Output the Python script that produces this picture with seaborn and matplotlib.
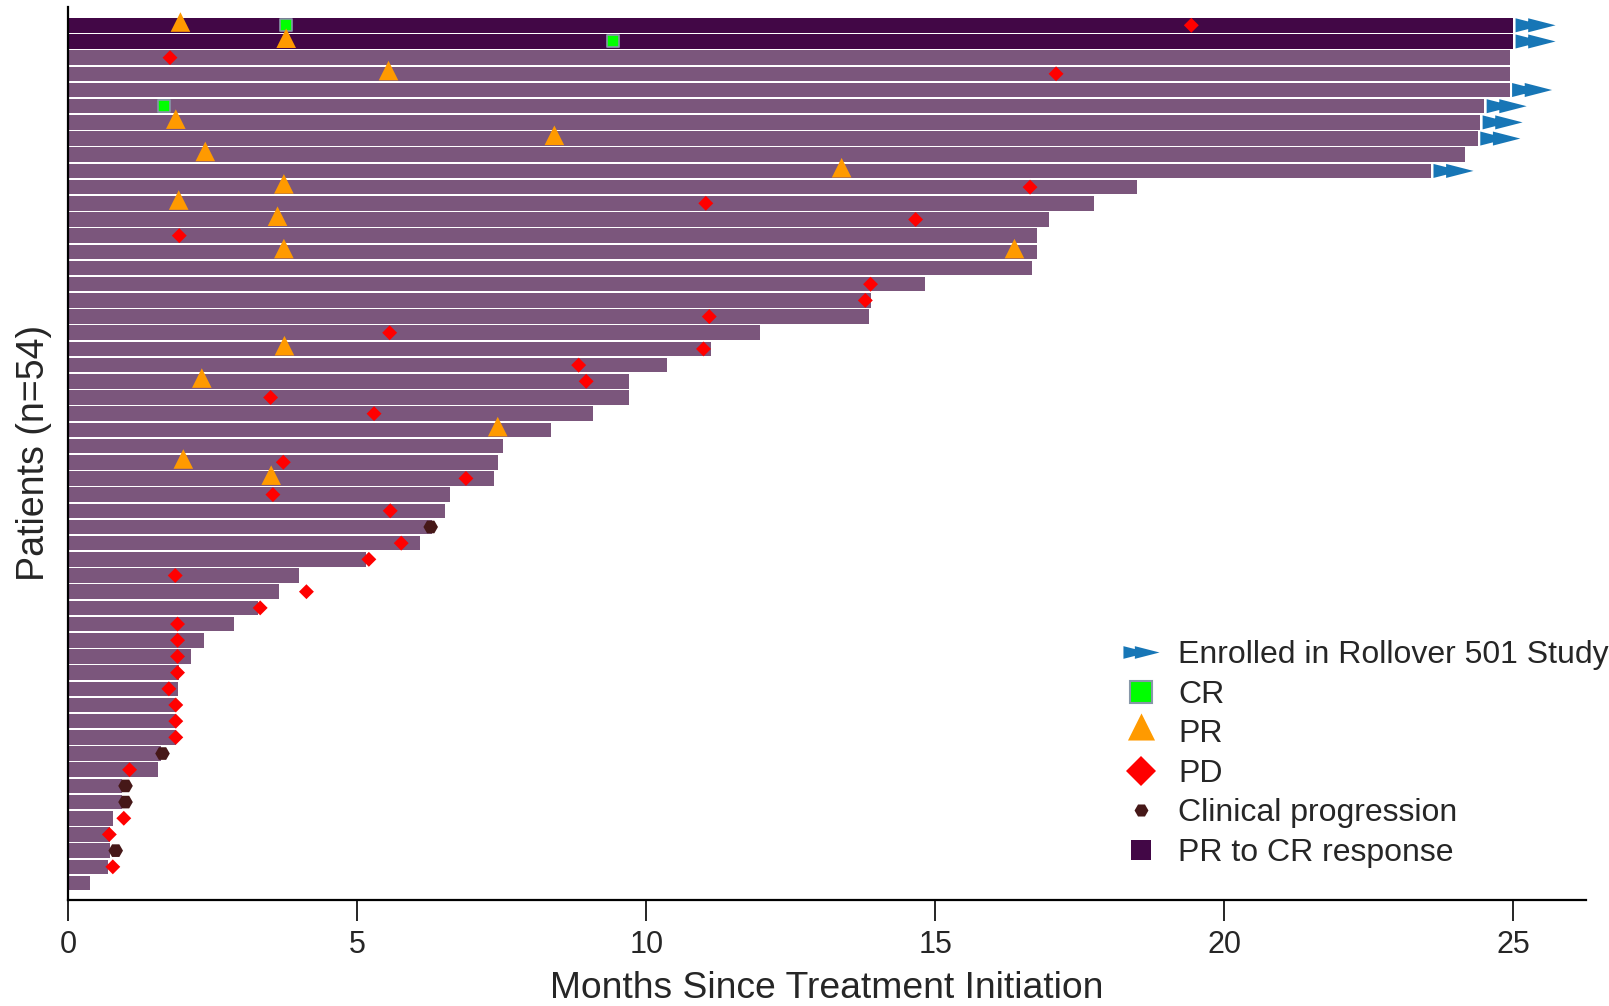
import numpy as np
import pandas as pd
import matplotlib.pyplot as plt
import seaborn as sns
from matplotlib.path import Path
from matplotlib.lines import Line2D

# ===============================
# Data (months)
# ===============================
end_months = [25.0, 25.0, 24.94, 24.94, 24.94, 24.50, 24.43, 24.39, 24.16, 23.58,
              18.49, 17.75, 16.97, 16.76, 16.76, 16.68, 14.82, 13.88, 13.86, 11.96,
              11.12, 10.36, 9.70, 9.70, 9.08, 8.35, 7.52, 7.44, 7.37, 6.61,
              6.52, 6.30, 6.09, 5.15, 4.00, 3.65, 3.28, 2.86, 2.34, 2.13,
              1.91, 1.90, 1.86, 1.86, 1.86, 1.61, 1.55, 0.93, 0.93, 0.78,
              0.72, 0.72, 0.68, 0.37]
pr_to_cr_rows = [0, 1]
rollover_rows = [0, 1, 4, 5, 6, 7, 9]

cr_rows = [0, 1, 5]
cr_months = [3.76, 9.42, 1.65]

pr_rows = [0, 1, 3, 6, 7, 8, 9, 10, 11, 12, 14, 14, 20, 22, 25, 27, 28]
pr_months = [1.94, 3.77, 5.54, 1.86, 8.41, 2.37, 13.38, 3.73, 1.91, 3.62, 3.73, 16.37,
             3.74, 2.31, 7.43, 1.99, 3.51]

pd_rows = [0, 2, 3, 10, 11, 12, 13, 16, 17, 18, 19, 20, 21, 22, 23, 24, 27, 28, 29, 30,
           32, 33, 34, 35, 36, 37, 38, 39, 40, 41, 42, 43, 44, 46, 49, 50, 52]
pd_months = [19.43, 1.76, 17.09, 16.64, 11.03, 14.66, 1.92, 13.88, 13.79, 11.09, 5.56, 10.99,
             8.83, 8.96, 3.50, 5.29, 3.72, 6.88, 3.54, 5.57, 5.76, 5.20, 1.85, 4.12, 3.32,
             1.89, 1.89, 1.89, 1.89, 1.74, 1.86, 1.86, 1.86, 1.06, 0.96, 0.71, 0.77]

cp_rows = [31, 45, 47, 48, 51]
cp_months = [6.27, 1.63, 0.99, 0.99, 0.82]

legend_labels = ["Enrolled in Rollover 501 Study", "CR", "PR", "PD",
                 "Clinical progression", "PR to CR response"]

# ===============================
# Colors / markers
# ===============================
bar_col = "#7b567c"
dark_col = "#420746"
blue = "#1776b6"
lime = "#00ff00"
orange = "#ff9a00"
red = "#ff0000"
brown = "#461818"

def double_arrow(centered=False):
    s = -2.85 if centered else 0.0
    v = [(0 + s, -1), (0 + s, 1), (3.9 + s, 0), (0 + s, -1),
         (1.8 + s, -1), (1.8 + s, 1), (5.7 + s, 0), (1.8 + s, -1)]
    c = [Path.MOVETO, Path.LINETO, Path.LINETO, Path.CLOSEPOLY] * 2
    return Path(v, c)

# triangle centred on its centroid
tri = Path([(0, 2 / 3), (-0.5, -1 / 3), (0.5, -1 / 3), (0, 2 / 3)],
           [Path.MOVETO, Path.LINETO, Path.LINETO, Path.CLOSEPOLY])

df = pd.DataFrame({"row": np.arange(len(end_months)), "months": end_months})
df["group"] = np.where(df["row"].isin(pr_to_cr_rows), "prcr", "other")

# ===============================
# Plot
# ===============================
sns.set_style("white")
plt.rcParams["font.family"] = ["Liberation Sans", "DejaVu Sans"]

fig = plt.figure(figsize=(16.09, 10.06), dpi=100)
ax = fig.add_axes([0.04245, 0.10537, 0.9433, 0.888])

sns.barplot(data=df, x="months", y="row", hue="group", orient="y", native_scale=True,
            palette={"prcr": dark_col, "other": bar_col}, saturation=1, width=0.9,
            errorbar=None, dodge=False, legend=False, linewidth=0, ax=ax)

arr = df[df["row"].isin(rollover_rows)]
sns.scatterplot(x=arr["months"] + 0.04, y=arr["row"], marker=double_arrow(), s=57.6 ** 2,
                color=blue, edgecolor="none", linewidth=0, ax=ax, zorder=3, legend=False)
sns.scatterplot(x=cr_months, y=cr_rows, marker="s", s=9 ** 2, color=lime,
                edgecolor="#8797a8", linewidth=1.2, ax=ax, zorder=4, legend=False)
sns.scatterplot(x=pr_months, y=pr_rows, marker=tri, s=18.8 ** 2, color=orange,
                edgecolor="none", linewidth=0, ax=ax, zorder=4, legend=False)
sns.scatterplot(x=pd_months, y=pd_rows, marker="D", s=7.6 ** 2, color=red,
                edgecolor="none", linewidth=0, ax=ax, zorder=4, legend=False)
sns.scatterplot(x=cp_months, y=cp_rows, marker="H", s=10.5 ** 2, color=brown,
                edgecolor="none", linewidth=0, ax=ax, zorder=4, legend=False)

ax.set_xlim(0, 26.26)
ax.set_ylim(54.05, -1.15)
ax.set_xticks([0, 5, 10, 15, 20, 25])
ax.set_yticks([])
ax.tick_params(axis="x", labelsize=22, length=15, width=1.2, direction="out",
               pad=6.8, color="black", bottom=True)
for side in ["top", "right"]:
    ax.spines[side].set_visible(False)
for side in ["left", "bottom"]:
    ax.spines[side].set_color("black")
    ax.spines[side].set_linewidth(1.6)
ax.set_xlabel("Months Since Treatment Initiation", fontsize=26.8, labelpad=8)
ax.set_ylabel("Patients (n=54)", fontsize=27, labelpad=12)

handles = [
    Line2D([], [], linestyle="none", marker=double_arrow(True), markersize=26,
           markerfacecolor=blue, markeredgewidth=0),
    Line2D([], [], linestyle="none", marker="s", markersize=15.5,
           markerfacecolor=lime, markeredgecolor="#8797a8", markeredgewidth=1.5),
    Line2D([], [], linestyle="none", marker=tri, markersize=26,
           markerfacecolor=orange, markeredgewidth=0),
    Line2D([], [], linestyle="none", marker="D", markersize=15.3,
           markerfacecolor=red, markeredgewidth=0),
    Line2D([], [], linestyle="none", marker="H", markersize=10,
           markerfacecolor=brown, markeredgewidth=0),
    Line2D([], [], linestyle="none", marker="s", markersize=14.4,
           markerfacecolor=dark_col, markeredgewidth=0),
]
fig.legend(handles, legend_labels, loc="upper left", bbox_to_anchor=(0.690, 0.3764),
           frameon=False, fontsize=23, handlelength=1.15, handletextpad=0.58,
           labelspacing=0.30, borderpad=0.4, borderaxespad=0)

fig.savefig("out.png", dpi=100)
